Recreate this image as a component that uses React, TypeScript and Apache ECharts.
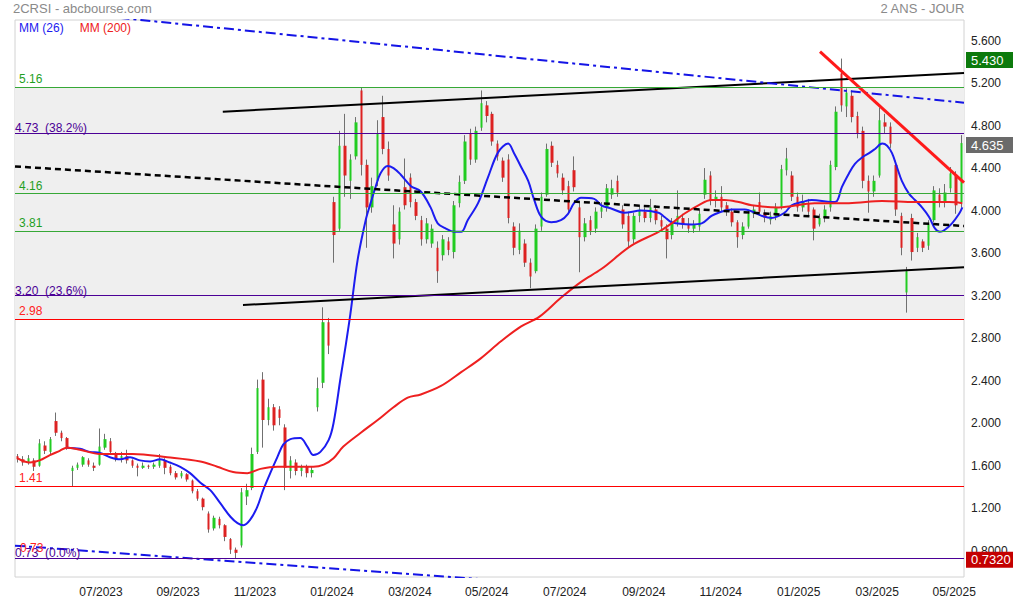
import React, { useEffect, useRef } from "react";
import * as echarts from "echarts";

const FONT = '"Liberation Sans", Arial, Helvetica, sans-serif';

// One candle per ~3 trading days: [open, close, low, high]
const candles: number[][] = [
  [1.69,1.66,1.63,1.71],[1.66,1.63,1.60,1.69],[1.63,1.67,1.61,1.70],[1.65,1.59,1.55,1.67],[1.60,1.81,1.59,1.85],
  [1.79,1.74,1.71,1.83],[1.73,1.85,1.71,1.87],[2.02,1.91,1.88,2.10],[1.91,1.86,1.83,1.93],[1.86,1.77,1.75,1.87],
  [1.55,1.58,1.40,1.60],[1.58,1.61,1.56,1.63],[1.61,1.68,1.59,1.69],[1.65,1.61,1.59,1.67],[1.60,1.58,1.55,1.63],
  [1.61,1.78,1.60,1.95],[1.77,1.85,1.75,1.90],[1.83,1.73,1.71,1.86],[1.72,1.67,1.64,1.73],[1.67,1.69,1.63,1.73],
  [1.69,1.65,1.62,1.75],[1.65,1.60,1.58,1.66],[1.60,1.58,1.50,1.62],[1.58,1.60,1.57,1.63],[1.60,1.59,1.57,1.61],
  [1.59,1.61,1.57,1.63],[1.60,1.66,1.58,1.71],[1.65,1.58,1.52,1.67],[1.59,1.53,1.51,1.61],[1.53,1.49,1.47,1.55],
  [1.50,1.53,1.48,1.55],[1.52,1.47,1.45,1.53],[1.46,1.36,1.34,1.47],[1.36,1.29,1.27,1.38],[1.29,1.21,1.18,1.30],
  [1.15,1.00,0.97,1.17],[1.01,1.11,0.99,1.13],[1.10,1.04,1.01,1.12],[1.04,0.93,0.89,1.05],[0.91,0.81,0.77,0.92],
  [0.81,0.78,0.732,0.83],[0.85,1.35,0.83,1.39],[1.31,1.37,1.23,1.43],[1.39,1.71,1.37,1.77],[1.73,2.33,1.71,2.41],
  [2.41,2.03,1.77,2.48],[2.03,2.15,1.98,2.23],[2.15,1.98,1.93,2.18],[2.13,2.05,1.98,2.16],[1.96,1.58,1.37,1.99],
  [1.55,1.65,1.48,1.69],[1.63,1.55,1.51,1.66],[1.55,1.59,1.50,1.61],[1.59,1.53,1.49,1.61],[1.53,1.56,1.49,1.59],
  [2.15,2.33,2.11,2.43],[2.38,2.95,2.33,3.09],[2.95,2.73,2.65,2.99],[4.08,3.77,3.51,4.13],[3.83,4.61,3.81,4.75],
  [4.61,4.33,4.13,4.91],[4.28,4.48,4.11,4.53],[4.51,4.83,4.48,4.88],[5.13,4.43,4.33,5.16],[4.43,4.03,3.65,4.48],
  [4.03,4.23,3.98,4.31],[4.28,4.73,4.23,4.85],[4.88,4.58,4.53,5.08],[4.58,4.33,4.28,4.65],[3.87,3.69,3.55,4.05],
  [3.73,3.99,3.68,4.03],[4.22,4.05,4.01,4.49],[4.31,4.08,4.03,4.35],[4.08,3.95,3.91,4.11],[3.91,3.73,3.67,3.95],
  [3.73,3.88,3.69,3.93],[3.69,3.83,3.65,3.87],[3.65,3.43,3.32,3.71],[3.58,3.73,3.53,3.77],[3.71,3.63,3.58,3.75],
  [3.61,4.05,3.55,4.09],[4.07,4.27,4.03,4.33],[4.28,4.65,4.25,4.71],[4.73,4.48,4.43,4.77],[4.48,4.75,4.45,4.79],
  [4.78,5.01,4.75,5.13],[4.99,4.89,4.83,5.03],[4.91,4.65,4.61,4.93],[4.63,4.51,4.47,4.66],[4.47,4.31,4.27,4.50],
  [4.48,3.93,3.88,4.53],[3.85,3.65,3.58,3.89],[3.63,3.81,3.59,3.88],[3.69,3.51,3.47,3.73],[3.51,3.38,3.27,3.55],
  [3.43,3.83,3.41,3.87],[3.85,4.13,3.81,4.17],[4.15,4.58,4.13,4.63],[4.61,4.45,4.41,4.65],[4.43,4.35,4.31,4.47],
  [4.31,4.19,4.15,4.35],[4.23,4.01,3.98,4.28],[4.38,4.22,4.18,4.51],[4.03,3.75,3.42,4.08],[3.75,3.88,3.71,3.93],
  [3.91,3.81,3.77,3.95],[3.83,3.99,3.79,4.03],[3.99,4.03,3.93,4.08],[4.03,4.21,3.99,4.25],[4.15,4.21,4.11,4.29],
  [4.28,4.17,4.13,4.33],[4.01,3.87,3.83,4.05],[3.95,3.71,3.65,3.99],[3.73,3.95,3.69,3.98],[3.95,4.01,3.89,4.05],
  [3.99,3.93,3.89,4.03],[3.93,4.03,3.89,4.11],[4.01,3.91,3.87,4.05],[3.91,3.85,3.81,3.95],[3.83,3.73,3.55,3.87],
  [3.77,3.89,3.73,3.93],[3.89,3.95,3.85,4.19],[3.93,3.87,3.83,3.97],[3.87,3.83,3.79,3.93],[3.83,3.87,3.79,3.91],
  [3.85,3.97,3.81,4.01],[4.15,4.29,4.11,4.40],[4.33,4.09,4.05,4.37],[4.09,4.13,4.03,4.19],[4.13,4.03,3.99,4.23],
  [4.05,3.99,3.95,4.08],[3.99,3.89,3.85,4.02],[3.89,3.75,3.65,3.91],[3.77,3.85,3.73,3.89],[3.85,3.97,3.83,4.01],
  [3.97,4.01,3.93,4.05],[4.08,3.99,3.95,4.17],[3.98,3.93,3.89,4.01],[3.91,3.95,3.87,3.99],[3.95,4.03,3.91,4.07],
  [4.03,4.39,4.01,4.43],[4.38,4.49,4.33,4.59],[4.33,4.13,4.09,4.37],[4.13,4.03,3.99,4.17],[4.03,4.09,3.99,4.15],
  [4.07,3.99,3.95,4.11],[4.01,3.83,3.72,4.03],[3.87,3.93,3.85,3.97],[3.93,4.01,3.89,4.05],[4.03,4.43,3.99,4.47],
  [4.41,4.93,4.38,4.98],[5.29,4.99,4.93,5.43],[4.98,5.11,4.88,5.15],[5.08,4.88,4.83,5.13],[4.89,4.73,4.68,4.93],
  [4.75,4.28,4.21,4.79],[4.28,4.18,3.98,4.33],[4.18,4.28,4.13,4.33],[4.33,4.85,4.31,4.97],[4.83,4.79,4.73,4.91],
  [4.79,4.63,4.59,4.83],[4.43,4.01,3.95,4.47],[3.95,3.65,3.58,3.98],[3.23,3.43,3.04,3.47],[3.93,3.61,3.53,3.97],
  [3.65,3.75,3.61,3.79],[3.71,3.65,3.61,3.73],[3.67,3.87,3.63,3.91],[3.91,4.19,3.89,4.23],[4.15,4.09,4.03,4.21],
  [4.09,4.17,4.03,4.25],[4.21,4.35,4.17,4.41],[4.33,4.05,3.97,4.37],[4.08,4.635,4.03,4.71],
];

// Moving averages: [candle index, value]
const mm26: number[][] = [
  [9.0,1.77],[11.4,1.76],[13.2,1.73],[15.1,1.72],[16.9,1.68],[18.8,1.66],[20.6,1.68],[22.4,1.65],[24.3,1.64],[26.1,1.66],
  [27.9,1.63],[29.8,1.59],[31.6,1.53],[33.5,1.44],[35.3,1.37],[37.1,1.25],[39.0,1.12],[40.3,1.06],[41.4,1.04],[42.6,1.09],
  [43.9,1.21],[45.0,1.37],[46.3,1.53],[47.6,1.68],[48.7,1.80],[50.0,1.85],[51.8,1.86],[53.1,1.78],[54.2,1.70],[55.5,1.73],
  [57.0,1.84],[57.9,2.00],[59.2,2.43],[60.1,2.72],[61.0,3.03],[62.3,3.53],[63.8,3.91],[64.7,4.07],[65.6,4.22],[66.5,4.35],
  [67.8,4.42],[68.9,4.40],[70.2,4.34],[72.1,4.23],[73.9,4.18],[75.7,4.03],[77.0,3.88],[78.5,3.83],[80.0,3.80],[81.3,3.80],
  [82.5,3.91],[84.4,4.07],[86.2,4.31],[88.1,4.55],[89.9,4.63],[91.0,4.54],[92.3,4.41],[93.6,4.28],[94.7,4.10],[96.0,3.94],
  [97.8,3.89],[99.6,3.91],[100.9,3.97],[102.0,4.07],[103.3,4.12],[105.7,4.11],[107.0,4.05],[108.8,4.02],[111.2,3.98],[114.3,4.00],
  [117.5,3.98],[118.6,3.94],[119.9,3.89],[123.5,3.87],[125.4,3.88],[127.2,3.95],[128.5,3.98],[130.9,4.01],[133.3,4.01],[136.4,3.95],
  [138.2,3.93],[140.6,3.98],[141.9,4.05],[143.8,4.08],[145.6,4.10],[149.3,4.08],[150.2,4.09],[151.1,4.22],[152.4,4.35],[153.5,4.44],
  [154.8,4.50],[156.1,4.54],[157.2,4.58],[158.5,4.63],[159.4,4.61],[160.3,4.54],[161.2,4.41],[162.1,4.28],[163.4,4.16],[164.5,4.10],
  [165.8,4.03],[167.1,3.94],[168.2,3.83],[169.1,3.80],[170.0,3.82],[171.3,3.88],[172.6,3.97],[173.2,4.03],
];

const mm200: number[][] = [
  [0,1.67],[2.2,1.63],[4.0,1.65],[5.9,1.70],[7.7,1.74],[9.0,1.77],[11.4,1.75],[15.1,1.71],[21.1,1.71],[27.4,1.68],
  [33.5,1.64],[36.6,1.59],[39.5,1.54],[42.1,1.53],[44.5,1.57],[47.6,1.59],[54.2,1.59],[56.1,1.61],[57.9,1.67],[59.7,1.78],
  [62.9,1.91],[66.0,2.03],[68.9,2.15],[71.5,2.24],[73.9,2.27],[77.6,2.35],[81.3,2.48],[84.9,2.61],[88.6,2.77],[92.3,2.91],
  [95.6,3.00],[99.6,3.18],[103.3,3.33],[107.0,3.45],[112.5,3.67],[117.5,3.80],[119.9,3.88],[122.2,3.97],[124.8,4.05],[127.2,4.10],
  [129.6,4.10],[132.2,4.08],[134.6,4.05],[139.5,4.03],[146.1,4.07],[152.4,4.07],[158.5,4.09],[164.5,4.08],[170.8,4.08],[173.2,4.07],
];

// Axis ticks
const yMin = 0.553;
const yMax = 5.793;
const yTickValues = [0.8, 1.2, 1.6, 2.0, 2.4, 2.8, 3.2, 3.6, 4.0, 4.4, 4.8, 5.2, 5.6];
const yTickLabels = ["0.8000", "1.200", "1.600", "2.000", "2.400", "2.800", "3.200", "3.600", "4.000", "4.400", "4.800", "5.200", "5.600"];
const monthPositions = [15.27, 29.4, 43.5, 57.6, 71.9, 86.0, 100.3, 114.8, 128.9, 143.2, 157.6, 171.7];
const monthLabels = ["07/2023", "09/2023", "11/2023", "01/2024", "03/2024", "05/2024", "07/2024", "09/2024", "11/2024", "01/2025", "03/2025", "05/2025"];

// Horizontal levels
const levelValues = [5.16, 4.73, 4.16, 3.81, 3.2, 2.98, 1.41, 0.73];
const levelLabels = ["5.16", "4.73  (38.2%)", "4.16", "3.81", "3.20  (23.6%)", "2.98", "1.41", "0.73  (0.0%)"];
const levelKinds = ["pivot", "fibo", "pivot", "pivot", "fibo", "stop", "stop", "fibo"];
const extraLowLabel = { value: 0.73, label: "0.73" };
const bandRange = [2.98, 5.16];

// Drawn trend lines: [candle index, value]
const upperChannel = [[37.6, 4.93], [173.5, 5.295]];
const lowerChannel = [[41.3, 3.112], [173.5, 3.467]];
const dashedTrend = [[-0.5, 4.415], [173.5, 3.855]];
const upperDashDot = [[-0.5, 5.912], [173.5, 5.015]];
const lowerDashDot = [[-0.5, 0.848], [173.5, 0.206]];
const redTrend = [[147.1, 5.495], [173.5, 4.263]];

// Price badges on the right axis
const badgeValues = [5.43, 4.635, 0.732];
const badgeLabels = ["5.430", "4.635", "0.7320"];
const badgeKinds = ["high", "last", "low"];

const pick = (vals: number[], labels: string[]) => (v: number) => {
  let k = 0;
  for (let i = 1; i < vals.length; i++) if (Math.abs(vals[i] - v) < Math.abs(vals[k] - v)) k = i;
  return labels[k];
};

const LEVEL_STYLE: Record<string, { line: string; text: string; dist: number[] }> = {
  pivot: { line: "#36a836", text: "#1f9f1f", dist: [4, 2] },
  fibo: { line: "#4b0096", text: "#4b0096", dist: [0, -1] },
  stop: { line: "#ff0000", text: "#ff2020", dist: [4, 2] },
};
const BADGE_BG: Record<string, string> = { high: "#0c7a0c", last: "#6a6a6a", low: "#c40000" };
const INVISIBLE_LINE = { color: "rgba(0,0,0,0)", width: 0, type: "solid" };

export default function App() {
  const ref = useRef<HTMLDivElement>(null);

  useEffect(() => {
    document.body.style.margin = "0";
    if (!ref.current) return;
    const chart = echarts.init(ref.current, undefined, { renderer: "svg" });
    const N = candles.length;
    const hiddenData = [[-0.5, bandRange[0]], [N - 0.5, bandRange[0]]];
    const hidden = {
      type: "line",
      xAxisIndex: 1,
      data: hiddenData,
      symbol: "none",
      lineStyle: { opacity: 0 },
      silent: true,
    };
    const trend = (name: string, data: number[][], color: string, width: number, type: any) => ({
      type: "line",
      name,
      xAxisIndex: 1,
      data,
      symbol: "none",
      silent: true,
      z: 4,
      lineStyle: { color, width, type },
    });

    const levelItems: any[] = levelValues.map((v, k) => {
      const s = LEVEL_STYLE[levelKinds[k]];
      return {
        yAxis: v,
        lineStyle: { color: s.line, width: 1, type: "solid" },
        label: {
          show: true,
          formatter: levelLabels[k],
          color: s.text,
          position: "insideStartTop",
          distance: s.dist,
          fontSize: 12,
          fontFamily: FONT,
        },
      };
    });
    levelItems.push({
      yAxis: extraLowLabel.value,
      lineStyle: INVISIBLE_LINE,
      label: {
        show: true,
        formatter: extraLowLabel.label,
        color: "#ff2020",
        position: "insideStartTop",
        distance: [5, 4],
        fontSize: 12,
        fontFamily: FONT,
      },
    });

    const option: any = {
      animation: false,
      backgroundColor: "#ffffff",
      textStyle: { fontFamily: FONT },
      title: [
        {
          text: "2CRSI - abcbourse.com",
          left: 13,
          top: 2,
          padding: 0,
          textStyle: { fontSize: 13, fontWeight: "normal", color: "#8a8a8a", fontFamily: FONT },
        },
        {
          text: "2 ANS - JOUR",
          right: 49,
          top: 2,
          padding: 0,
          textStyle: { fontSize: 13, fontWeight: "normal", color: "#8a8a8a", fontFamily: FONT },
        },
      ],
      legend: {
        left: 14,
        top: 22,
        padding: 0,
        itemWidth: 0,
        itemHeight: 8,
        itemGap: 11,
        icon: "rect",
        selectedMode: false,
        itemStyle: { opacity: 0 },
        lineStyle: { opacity: 0 },
        textStyle: { fontSize: 12, fontFamily: FONT },
        data: [
          { name: "MM (26)", textStyle: { color: "#1c1cf0" } },
          { name: "MM (200)", textStyle: { color: "#ee2020" } },
        ],
      },
      grid: {
        left: 15,
        right: 50,
        top: 20,
        bottom: 26,
        show: true,
        backgroundColor: "#ffffff",
        borderColor: "#d2d2d2",
        borderWidth: 1,
      },
      xAxis: [
        { type: "category", data: candles.map((_, i) => String(i)), show: false, boundaryGap: true },
        {
          type: "value",
          min: -0.5,
          max: N - 0.5,
          position: "bottom",
          splitLine: { show: false },
          axisLine: { show: false },
          axisTick: { show: false },
          axisLabel: {
            customValues: monthPositions,
            formatter: pick(monthPositions, monthLabels),
            color: "#222",
            fontSize: 12,
            fontFamily: FONT,
            margin: 9,
          },
        },
      ],
      yAxis: {
        type: "value",
        position: "right",
        min: yMin,
        max: yMax,
        splitLine: { show: false },
        axisLine: { show: false },
        axisTick: { show: false },
        axisLabel: {
          customValues: yTickValues,
          formatter: pick(yTickValues, yTickLabels),
          color: "#222",
          fontSize: 12,
          fontFamily: FONT,
          margin: 7,
          padding: [0, 0, 7, 0],
        },
      },
      series: [
        {
          ...hidden,
          name: "band",
          z: 0,
          markArea: {
            silent: true,
            itemStyle: { color: "#efefef" },
            data: [[{ yAxis: bandRange[1] }, { yAxis: bandRange[0] }]],
          },
        },
        {
          type: "candlestick",
          name: "wicks",
          xAxisIndex: 0,
          data: candles,
          barWidth: 1,
          z: 2,
          silent: true,
          itemStyle: { color: "#707070", color0: "#707070", borderColor: "#707070", borderColor0: "#707070", borderWidth: 1 },
        },
        {
          type: "candlestick",
          name: "bodies",
          xAxisIndex: 0,
          data: candles.map(([o, c]) => [o, c, Math.min(o, c), Math.max(o, c)]),
          barWidth: 3,
          z: 3,
          silent: true,
          itemStyle: { color: "#22cc22", color0: "#dd2222", borderColor: "#22cc22", borderColor0: "#dd2222", borderWidth: 0 },
        },
        {
          type: "line",
          name: "MM (26)",
          xAxisIndex: 1,
          data: mm26,
          smooth: 0.35,
          symbol: "none",
          z: 4,
          itemStyle: { color: "#1c1cf0" },
          lineStyle: { color: "#1c1cf0", width: 2 },
        },
        {
          type: "line",
          name: "MM (200)",
          xAxisIndex: 1,
          data: mm200,
          smooth: 0.35,
          symbol: "none",
          z: 4,
          itemStyle: { color: "#ee2020" },
          lineStyle: { color: "#ee2020", width: 2 },
        },
        trend("upperChannel", upperChannel, "#000000", 2, "solid"),
        trend("lowerChannel", lowerChannel, "#000000", 2, "solid"),
        trend("dashedTrend", dashedTrend, "#000000", 2.5, [6, 4]),
        trend("upperDashDot", upperDashDot, "#1414e6", 2, [10, 4, 3, 4]),
        trend("lowerDashDot", lowerDashDot, "#1414e6", 2, [10, 4, 3, 4]),
        trend("redTrend", redTrend, "#ff1a1a", 3, "solid"),
        {
          ...hidden,
          name: "levels",
          z: 1,
          markLine: {
            silent: true,
            symbol: ["none", "none"],
            animation: false,
            data: levelItems,
          },
        },
        {
          ...hidden,
          name: "badges",
          z: 6,
          markLine: {
            silent: true,
            symbol: ["none", "none"],
            animation: false,
            lineStyle: INVISIBLE_LINE,
            data: badgeValues.map((v, k) => ({
              yAxis: v,
              lineStyle: INVISIBLE_LINE,
              label: {
                show: true,
                position: "end",
                distance: 2,
                formatter: badgeLabels[k],
                color: "#ffffff",
                backgroundColor: BADGE_BG[badgeKinds[k]],
                fontSize: 13,
                fontFamily: FONT,
                width: 38,
                align: "left",
                padding: [2, 4, 1, 5],
                offset: [0, 1.5],
              },
            })),
          },
        },
      ],
    };
    chart.setOption(option);
    return () => chart.dispose();
  }, []);

  return <div ref={ref} style={{ width: 1014, height: 603 }} />;
}
